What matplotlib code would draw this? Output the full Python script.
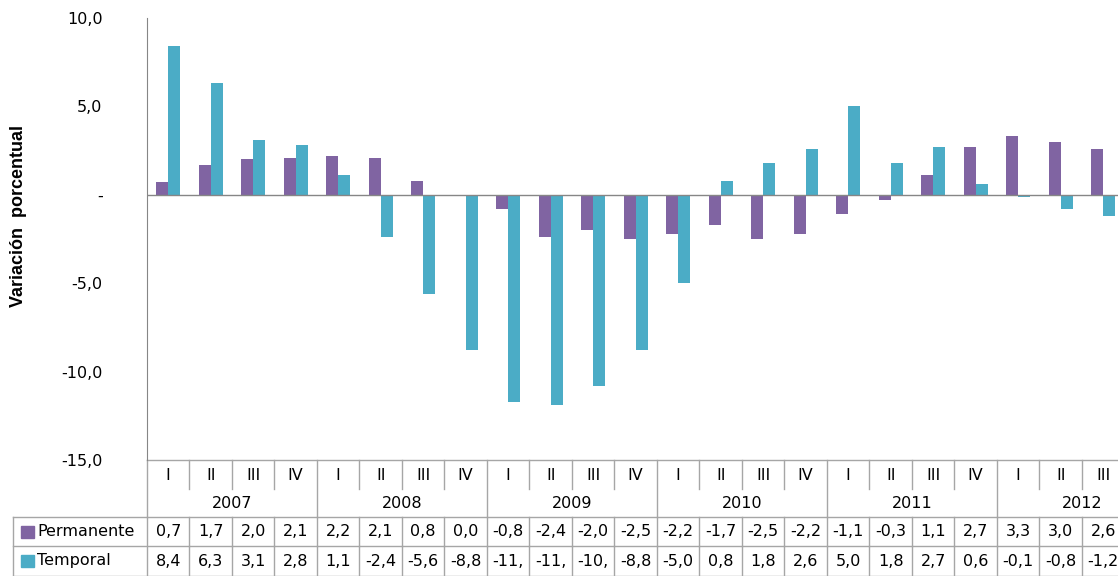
import matplotlib
matplotlib.use("Agg")
import matplotlib.pyplot as plt
from matplotlib.transforms import blended_transform_factory
from matplotlib.patches import Rectangle
import numpy as np

plt.rcParams['font.family'] = ['DejaVu Sans']

# data
years = ["2007", "2008", "2009", "2010", "2011", "2012"]
quarters = ["I", "II", "III", "IV"] * 5 + ["I", "II", "III"]
permanente = [0.7, 1.7, 2.0, 2.1, 2.2, 2.1, 0.8, 0.0, -0.8, -2.4, -2.0, -2.5,
              -2.2, -1.7, -2.5, -2.2, -1.1, -0.3, 1.1, 2.7, 3.3, 3.0, 2.6]
temporal = [8.4, 6.3, 3.1, 2.8, 1.1, -2.4, -5.6, -8.8, -11.7, -11.9, -10.8, -8.8,
            -5.0, 0.8, 1.8, 2.6, 5.0, 1.8, 2.7, 0.6, -0.1, -0.8, -1.2]
series = [("Permanente", permanente, "#8064A2"), ("Temporal", temporal, "#4BACC6")]

W, H = 1118, 576
fs = 11.5
grid_c = "#A6A6A6"
fig = plt.figure(figsize=(W / 100, H / 100), dpi=100)
ax = fig.add_axes([147 / W, (H - 460) / H, 971 / W, 442 / H])

x = np.arange(len(quarters))
bw = 0.28
for i, (name, vals, col) in enumerate(series):
    ax.bar(x + (i - 0.5) * bw, vals, bw, color=col, zorder=2)

right = 22.35
ax.set_xlim(-0.5, right)
ax.set_ylim(-15, 10)
yt = [10, 5, 0, -5, -10, -15]
ax.set_yticks(yt)
ax.set_yticklabels(["-" if v == 0 else f"{v:.1f}".replace(".", ",") for v in yt],
                   fontsize=fs)
ax.tick_params(axis="y", length=0, pad=32)
ax.set_xticks([])
for s in ["top", "right", "bottom"]:
    ax.spines[s].set_visible(False)
ax.spines["left"].set_color("#868686")
ax.axhline(0, color="#868686", lw=1, zorder=3)
ax.set_ylabel("Variación  porcentual", fontsize=13, fontweight="bold",
              family="Liberation Sans")
ax.yaxis.set_label_coords(-120 / 971, (460 - 216) / 442)


def fy(py):
    # pixel row (from top of image) -> axes fraction
    return -(py - 460) / 442


tr = blended_transform_factory(ax.transData, ax.transAxes)
n = len(quarters)
lkw = dict(color=grid_c, lw=1, clip_on=False, transform=tr)

# quarter row
for k in range(n):
    ax.text(k, fy(475), quarters[k], ha="center", va="center", fontsize=fs,
            transform=tr, clip_on=False)
for k in range(1, n + 1):
    if k % 4 == 0:
        continue
    ax.plot([k - 0.5, k - 0.5], [fy(460), fy(489)], **lkw)
# year row
for j, yr in enumerate(years):
    start = j * 4 - 0.5
    ax.text(start + 2, fy(504), yr, ha="center", va="center",
            fontsize=fs, transform=tr, clip_on=False)
    ax.plot([start, start], [fy(460), fy(517)], **lkw)
ax.plot([-0.5, right], [fy(460), fy(460)], **lkw)

# value rows
rows_y = [(517, 546), (546, 576)]
ax.plot([-0.5, -0.5], [fy(517), fy(580)], **lkw)
for (name, vals, col), (t, b) in zip(series, rows_y):
    ax.plot([-134 / 971, 1.01], [fy(t), fy(t)], color=grid_c, lw=1, clip_on=False,
            transform=ax.transAxes)
    ym = fy((t + b) / 2)
    for k, v in enumerate(vals):
        txt = f"{v:.1f}".replace(".", ",")[:4]
        ax.text(k, ym, txt, ha="center", va="center", fontsize=fs,
                transform=tr, clip_on=False)
    for k in range(1, n + 1):
        ax.plot([k - 0.5, k - 0.5], [fy(t), fy(b)], **lkw)
    ax.add_patch(Rectangle((-126 / 971, ym - 6 / 442), 13 / 971, 12 / 442,
                           color=col, transform=ax.transAxes, clip_on=False))
    ax.text(-110 / 971, ym, name, ha="left", va="center", fontsize=fs,
            transform=ax.transAxes, clip_on=False)
ax.plot([-134 / 971, 1.01], [fy(575.5), fy(575.5)], color=grid_c, lw=1,
        clip_on=False, transform=ax.transAxes)
ax.plot([-134 / 971, -134 / 971], [fy(517), fy(580)], color=grid_c, lw=1,
        clip_on=False, transform=ax.transAxes)

fig.savefig("out.png", dpi=100)
